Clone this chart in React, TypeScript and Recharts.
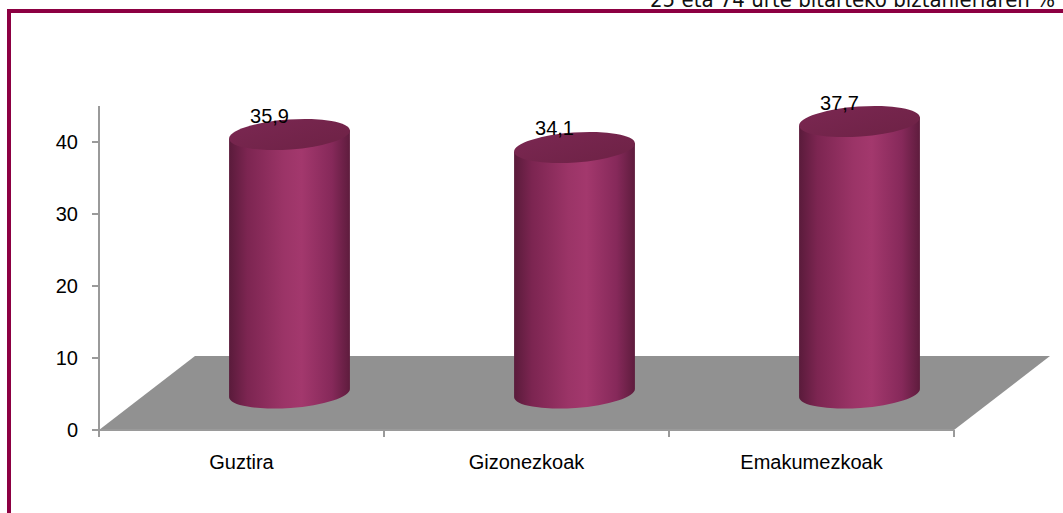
import { BarChart, Bar, XAxis, YAxis, LabelList } from "recharts";

const categories = ["Guztira", "Gizonezkoak", "Emakumezkoak"];
const values = [35.9, 34.1, 37.7];
const yTicks = [0, 10, 20, 30, 40];
const title = "25 eta 74 urte bitarteko biztanleriaren %";

const data = categories.map((name, i) => ({ name, value: values[i] }));

// 3D look: floor depth and tilt of the ellipses
const DEPTH_X = 96;
const DEPTH_Y = 74;
const TILT = -4;
const CYL_FRAC = 0.425;
const RY = 15;
const FRAME = "#8c0042";
const AXIS = "#9a9a9a";
const FONT = "'Liberation Sans', Arial, sans-serif";

const rad = (TILT * Math.PI) / 180;

function Cylinder(props: any) {
  const { x, y, width, height } = props;
  if (width == null || height == null) return null;
  const rx = (width * CYL_FRAC) / 2;
  const cx = x + width / 2 + DEPTH_X / 2;
  const top = y - DEPTH_Y / 2;
  const bot = y + height - DEPTH_Y / 2;
  const dx = rx * Math.cos(rad);
  const dy = rx * Math.sin(rad);
  const body = [
    `M ${cx - dx} ${top - dy}`,
    `L ${cx - dx} ${bot - dy}`,
    `A ${rx} ${RY} ${TILT} 0 0 ${cx + dx} ${bot + dy}`,
    `L ${cx + dx} ${top + dy}`,
    "Z",
  ].join(" ");
  return (
    <g>
      <path d={body} fill="url(#cylGrad)" />
      <ellipse
        cx={cx}
        cy={top}
        rx={rx}
        ry={RY}
        fill="url(#capGrad)"
        transform={`rotate(${TILT} ${cx} ${top})`}
      />
    </g>
  );
}

// floor drawn once from the first band, tick marks at every band edge
function FloorSegment(props: any) {
  const { x, y, width, height, index } = props;
  const b = y + height;
  const full = width * data.length;
  const pts = [
    [x, b],
    [x + full, b],
    [x + full + DEPTH_X, b - DEPTH_Y],
    [x + DEPTH_X, b - DEPTH_Y],
  ]
    .map((p) => p.join(","))
    .join(" ");
  const last = index === data.length - 1;
  return (
    <g>
      {index === 0 && <polygon points={pts} fill="#919191" />}
      <line x1={x} x2={x} y1={b} y2={b + 7} stroke={AXIS} strokeWidth={2} />
      {last && (
        <line x1={x + width} x2={x + width} y1={b} y2={b + 7} stroke={AXIS} strokeWidth={2} />
      )}
    </g>
  );
}

function ValueLabel(props: any) {
  const { x, y, width, value } = props;
  const cx = x + width / 2 + DEPTH_X / 2 - 20;
  const top = y - DEPTH_Y / 2;
  return (
    <text x={cx} y={top - 12} textAnchor="middle" fontSize={20} fontFamily={FONT} fill="#000">
      {String(value).replace(".", ",")}
    </text>
  );
}

export default function App() {
  return (
    <div
      style={{
        position: "absolute",
        left: 0,
        top: 0,
        width: 1063,
        height: 513,
        overflow: "hidden",
        background: "#fff",
      }}
    >
      <svg width={1063} height={513} style={{ position: "absolute", left: 0, top: 0 }}>
        <text
          x={1055}
          y={7}
          textAnchor="end"
          fontSize={21}
          fontFamily="'DejaVu Sans', sans-serif"
          fill="#111"
          textLength={405}
          lengthAdjust="spacingAndGlyphs"
        >
          {title}
        </text>
        <rect x={7} y={9} width={1063} height={4} fill={FRAME} />
        <rect x={7} y={9} width={4} height={513} fill={FRAME} />
      </svg>
      <div style={{ position: "absolute", left: 0, top: 0 }}>
        <BarChart
          width={1063}
          height={513}
          data={data}
          margin={{ top: 106, right: 109, bottom: 43, left: 0 }}
          barCategoryGap={0}
        >
          <defs>
            <linearGradient id="cylGrad" x1="0" y1="0" x2="1" y2="0">
              <stop offset="0" stopColor="#5a1b3b" />
              <stop offset="0.15" stopColor="#7c2551" />
              <stop offset="0.45" stopColor="#9b3467" />
              <stop offset="0.6" stopColor="#a3386d" />
              <stop offset="0.85" stopColor="#86295a" />
              <stop offset="1" stopColor="#5e1c3d" />
            </linearGradient>
            <linearGradient id="capGrad" x1="0" y1="0" x2="1" y2="1">
              <stop offset="0" stopColor="#7a2751" />
              <stop offset="1" stopColor="#6e2246" />
            </linearGradient>
          </defs>
          <XAxis
            dataKey="name"
            axisLine={{ stroke: AXIS, strokeWidth: 2 }}
            tickLine={false}
            tickSize={0}
            tickMargin={25}
            height={40}
            tick={{ fill: "#000", fontSize: 20, fontFamily: FONT }}
          />
          <YAxis
            domain={[0, 45]}
            ticks={yTicks}
            width={99}
            axisLine={{ stroke: AXIS, strokeWidth: 2 }}
            tickLine={{ stroke: AXIS, strokeWidth: 2 }}
            tickSize={7}
            tickMargin={14}
            tick={{ fill: "#000", fontSize: 20, fontFamily: FONT }}
          />
          <Bar
            dataKey="value"
            isAnimationActive={false}
            shape={(p: any) => <Cylinder {...p} />}
            background={(p: any) => <FloorSegment {...p} />}
          >
            <LabelList dataKey="value" content={(p: any) => <ValueLabel {...p} />} />
          </Bar>
        </BarChart>
      </div>
    </div>
  );
}
